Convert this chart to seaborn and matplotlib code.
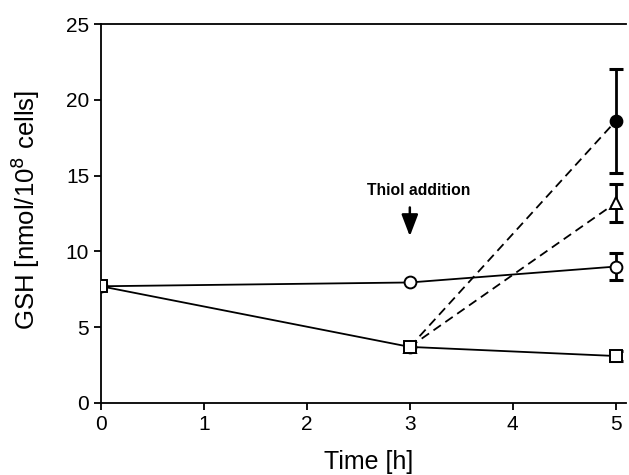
import matplotlib
matplotlib.use("Agg")
import matplotlib.pyplot as plt
import seaborn as sns
import pandas as pd

sns.set_theme(style="ticks")
plt.rcParams['font.family'] = ['Liberation Sans', 'DejaVu Sans']

time_ctrl = [0, 3, 5]
gsh_ctrl = [7.7, 7.95, 9.0]
err_ctrl = [0.0, 0.0, 0.9]

time_sq = [0, 3, 5]
gsh_sq = [7.7, 3.7, 3.1]
err_sq = [0.0, 0.0, 0.3]

time_tri = [3, 5]
gsh_tri = [3.7, 13.2]
err_tri = [0.0, 1.25]

time_fill = [3, 5]
gsh_fill = [3.7, 18.6]
err_fill = [0.0, 3.45]

fig = plt.figure(figsize=(6.29, 4.75), dpi=100)
ax = fig.add_axes([101/629, 1-403/475, (626-101)/629, (403-24)/475])

def draw(t, y, e, marker, mfc, ls, ms=8.5, z=3):
    df = pd.DataFrame({"t": t, "y": y})
    sns.lineplot(data=df, x="t", y="y", ax=ax, color="black", lw=1.3,
                 linestyle=ls, marker=None, zorder=z)
    ax.errorbar(t[-1:], y[-1:], yerr=e[-1:], fmt="none", ecolor="black",
                elinewidth=2.0, capsize=5, capthick=2.2, zorder=z)
    ax.plot(t, y, linestyle="none", marker=marker, mfc=mfc, mec="black",
            mew=1.4, ms=ms, zorder=z + 2)

draw(time_fill, gsh_fill, err_fill, "o", "black", (0, (5, 3)))
draw(time_tri, gsh_tri, err_tri, "^", "white", (0, (5, 3)))
draw(time_ctrl, gsh_ctrl, err_ctrl, "o", "white", "-")
draw(time_sq, gsh_sq, err_sq, "s", "white", "-")

ax.set_xlim(0, 5.1)
ax.set_ylim(0, 25)
ax.set_xticks([0, 1, 2, 3, 4, 5])
ax.set_yticks([0, 5, 10, 15, 20, 25])
ax.spines["right"].set_visible(False)
for s in ["left", "bottom", "top"]:
    ax.spines[s].set_linewidth(1.3)
    ax.spines[s].set_color("black")
ax.tick_params(axis="both", labelsize=15, width=1.3, length=5,
               colors="black", labelcolor="black")
ax.set_xlabel("Time [h]", fontsize=18, color="black")
ax.set_ylabel("GSH [nmol/10$^8$ cells]", fontsize=18.5, color="black")
ax.xaxis.label.set_va("center")
ax.yaxis.label.set_va("center")
ax.xaxis.set_label_coords(0.509, -0.156)
ax.yaxis.set_label_coords(-0.145, 0.51)

ax.annotate("", xy=(3.0, 11.0), xytext=(3.0, 12.9),
            arrowprops=dict(arrowstyle="-|>,head_width=0.42,head_length=1.1",
                            color="black", lw=1.8, shrinkA=0, shrinkB=0))
ax.text(3.09, 14.05, "Thiol addition", fontsize=11.3, fontweight="bold",
        ha="center", va="center", color="black")

fig.savefig("out.png", dpi=100)
